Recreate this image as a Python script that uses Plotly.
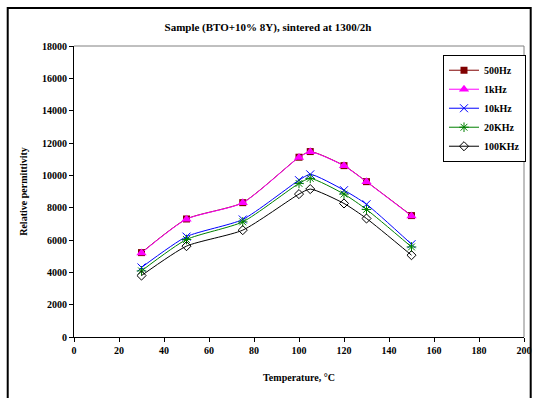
import plotly.graph_objects as go

temperature = [30, 50, 75, 100, 105, 120, 130, 150]

eps_500hz = [5220, 7300, 8310, 11120, 11470, 10600, 9610, 7510]
eps_1khz = [5200, 7290, 8300, 11110, 11455, 10590, 9600, 7490]
eps_10khz = [4300, 6210, 7270, 9700, 10060, 9080, 8210, 5740]
eps_20khz = [4090, 6030, 7120, 9500, 9810, 8840, 7890, 5570]
eps_100khz = [3800, 5620, 6610, 8840, 9150, 8260, 7330, 5060]

x_ticks = list(range(0, 201, 20))
y_ticks = list(range(0, 18001, 2000))

FONT = "Times New Roman, Liberation Serif, serif"

series = [
    ("500Hz", eps_500hz, "#800000", dict(symbol="square", size=7)),
    ("1kHz", eps_1khz, "#FF00FF", dict(symbol="triangle-up", size=9)),
    ("10kHz", eps_10khz, "#0000FF", dict(symbol="x-thin", size=8, line=dict(width=1, color="#0000FF"))),
    ("20KHz", eps_20khz, "#008000", dict(symbol="asterisk", size=8, line=dict(width=1, color="#008000"))),
    ("100KHz", eps_100khz, "#000000", dict(symbol="diamond-open", size=7, line=dict(width=1, color="#000000"))),
]

fig = go.Figure()
for name, vals, color, marker in series:
    m = dict(color=color)
    m.update(marker)
    fig.add_trace(go.Scatter(
        x=temperature, y=vals, name=name, mode="lines+markers",
        line=dict(color=color, width=1, shape="spline", smoothing=0.6),
        marker=m,
    ))

fig.update_layout(
    width=536, height=398,
    margin=dict(l=74, r=12, t=46, b=61, autoexpand=False),
    paper_bgcolor="white", plot_bgcolor="white",
    font=dict(family=FONT, color="black", size=10),
    title=dict(
        text="<b>Sample (BTO+10% 8Y), sintered at 1300/2h</b>",
        x=0.5, xanchor="center", y=1 - 27 / 398, yanchor="middle",
        font=dict(family=FONT, size=11, color="black"),
    ),
    showlegend=True,
    legend=dict(
        x=0.82, y=0.97, xanchor="left", yanchor="top",
        bordercolor="black", borderwidth=1, bgcolor="white",
        font=dict(family=FONT, size=10, color="black", weight="bold"),
        itemwidth=30, tracegroupgap=0,
    ),
    xaxis=dict(
        range=[0, 200], tickvals=x_ticks, ticktext=[f"<b>{v}</b>" for v in x_ticks],
        ticks="outside", ticklen=4, tickcolor="black", showgrid=False, zeroline=False,
        showline=True, linecolor="black", linewidth=1, mirror=False,
        title=dict(text="<b>Temperature, °C</b>", font=dict(family=FONT, size=10), standoff=18),
    ),
    yaxis=dict(
        range=[0, 18000], tickvals=y_ticks, ticktext=[f"<b>{v}</b>" for v in y_ticks],
        ticks="outside", ticklen=4, tickcolor="black", showgrid=False, zeroline=False,
        showline=True, linecolor="black", linewidth=1, mirror=False,
        title=dict(text="<b>Relative permittivity</b>", font=dict(family=FONT, size=10), standoff=12),
    ),
    shapes=[
        # grey box closing the plot area on top and right
        dict(type="line", xref="paper", yref="paper", x0=0, x1=1, y0=1, y1=1,
             line=dict(color="#808080", width=1)),
        dict(type="line", xref="paper", yref="paper", x0=1, x1=1, y0=0, y1=1,
             line=dict(color="#808080", width=1)),
        # outer chart frame
        dict(type="rect", xref="paper", yref="paper",
             x0=-0.1473, x1=1.0149, y0=-0.23, y1=1.1307,
             line=dict(color="black", width=2), layer="below"),
    ],
)

fig.write_html("out.html")
